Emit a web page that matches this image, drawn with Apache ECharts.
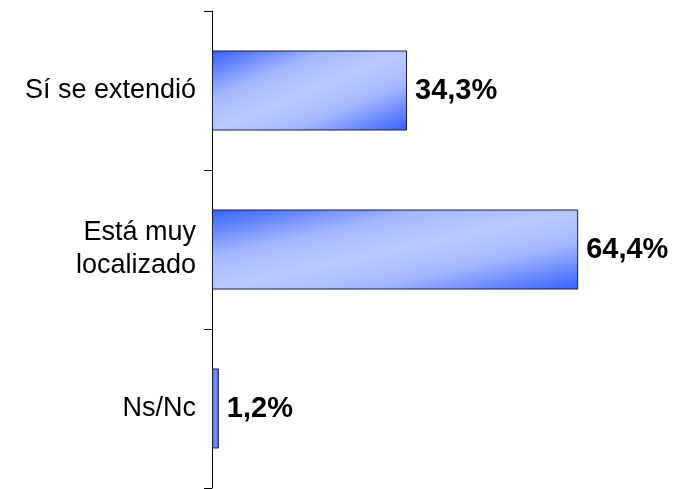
<!DOCTYPE html>
<html><head><meta charset="utf-8">
<script src="https://cdn.jsdelivr.net/npm/echarts@6/dist/echarts.min.js"></script>
<style>html,body{margin:0;padding:0;background:#fff}#c{width:678px;height:489px}</style>
</head><body><div id="c"></div>
<script>
var categories = ['Sí se extendió', 'Está muy\nlocalizado', 'Ns/Nc'];
var values = [34.3, 64.4, 1.2];
var valueLabels = ['34,3%', '64,4%', '1,2%'];

var BAR_W = 80;
var FONT = 'Liberation Sans, Arial, sans-serif';
var chart = echarts.init(document.getElementById('c'), null, {renderer: 'canvas'});

function makeGrad(w, h) {
  if (w < 20) {
    return new echarts.graphic.LinearGradient(0, 0, 1, 0, [
      {offset: 0, color: '#5676f0'},
      {offset: 0.5, color: '#7390f7'},
      {offset: 1, color: '#5676f0'}
    ]);
  }
  // Excel-style diagonal gradient: isolines follow the box's anti-diagonal
  var d = w * w + h * h;
  var x2 = 2 * h * h / d, y2 = 2 * w * w / d;
  return new echarts.graphic.LinearGradient(0, 0, x2, y2, [
    {offset: 0, color: '#3460fb'},
    {offset: 0.3, color: '#a4b9ff'},
    {offset: 0.5, color: '#b9c9ff'},
    {offset: 0.7, color: '#a4b9ff'},
    {offset: 1, color: '#3460fb'}
  ]);
}

var option = {
  animation: false,
  grid: {left: 212, right: 68, top: 11, bottom: 1, containLabel: false},
  xAxis: {type: 'value', min: 0, max: 70, show: false},
  yAxis: {
    type: 'category', inverse: true, data: categories,
    axisLine: {show: true, lineStyle: {color: '#000', width: 1}},
    axisTick: {show: true, length: 8, inside: false, lineStyle: {color: '#000'}},
    axisLabel: {color: '#000', fontFamily: FONT, fontSize: 27, margin: 16, lineHeight: 33, align: 'right'},
    splitLine: {show: false}
  },
  series: [{
    type: 'bar', data: values, barWidth: BAR_W,
    itemStyle: {color: '#7f9bff', borderColor: '#1a1a40', borderWidth: 1},
    label: {show: true, position: 'right', distance: 8,
      formatter: function (p) { return valueLabels[p.dataIndex]; },
      color: '#000', fontWeight: 'bold', fontSize: 29, fontFamily: FONT}
  }]
};
chart.setOption(option);

var x0 = chart.convertToPixel({xAxisIndex: 0}, 0);
var styled = values.map(function (v) {
  var w = Math.max(1, chart.convertToPixel({xAxisIndex: 0}, v) - x0);
  return {value: v, itemStyle: {color: makeGrad(w, BAR_W)}};
});
chart.setOption({series: [{data: styled}]});
</script></body></html>
